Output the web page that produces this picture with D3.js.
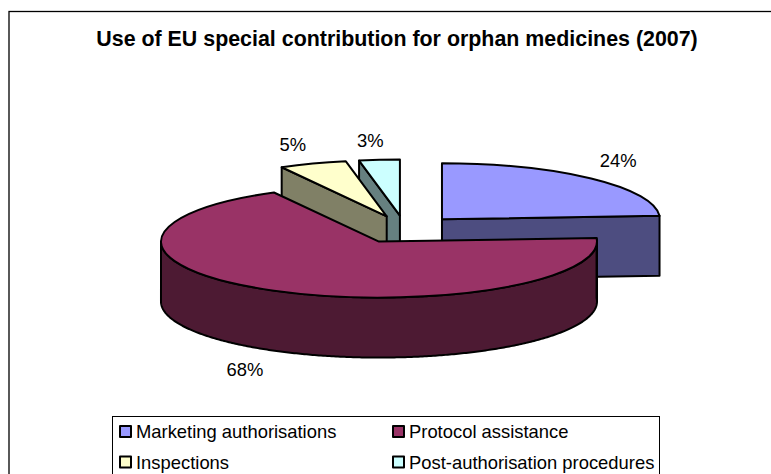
<!DOCTYPE html>
<html>
<head>
<meta charset="utf-8">
<script src="https://cdn.jsdelivr.net/npm/d3@7"></script>
<style>
  html, body { margin: 0; padding: 0; background: #fff; overflow: hidden; }
  text { font-family: "Liberation Sans", Arial, sans-serif; fill: #000; }
</style>
</head>
<body>
<svg id="chart" width="771" height="474"></svg>
<script>
// chart data
const chartTitle = "Use of EU special contribution for orphan medicines (2007)"
const categories = ["Marketing authorisations", "Protocol assistance", "Inspections", "Post-authorisation procedures"]
const shares = [24, 68, 5, 3]
const topColors = ["#9999ff", "#993366", "#ffffcc", "#ccffff"]
const sideColors = ["#4d4d80", "#4d1a33", "#808066", "#668080"]

// pie geometry
const centerX = 405
const centerY = 229.4
const radius = 218
const squash = 56 / 218
const depth = 60
const explode = 54

// label nudges from the middle of each slice rim
const labelNudge = [[27, -16], [-29, 81], [-20, -18], [-9, -18]]

const svg = d3.select("#chart")

// outer frame runs off the right and bottom of the picture
svg.append("rect")
  .attr("x", 9).attr("y", 11.5)
  .attr("width", 900).attr("height", 600)
  .attr("fill", "#fff").attr("stroke", "#000").attr("stroke-width", 1.3)

svg.append("text")
  .attr("x", 397).attr("y", 46)
  .attr("text-anchor", "middle")
  .style("font-size", "21.4px").style("font-weight", "bold")
  .text(chartTitle)

// angles come from d3.pie, starting at 12 o'clock and going clockwise
const slices = d3.pie().sort(null).startAngle(0).endAngle(2 * Math.PI)(shares)

slices.forEach(function(s) {
  const mid = (s.startAngle + s.endAngle) / 2
  s.cx = centerX + explode * Math.sin(mid)
  s.cy = centerY - explode * squash * Math.cos(mid)
})

function rim(s, angle, drop) {
  return [s.cx + radius * Math.sin(angle), s.cy - radius * squash * Math.cos(angle) + drop]
}

const line = d3.line()

// flat cut from the apex to the rim, pushed down by the depth
function cutFace(s, angle) {
  return line([[s.cx, s.cy], rim(s, angle, 0), rim(s, angle, depth), [s.cx, s.cy + depth]]) + "Z"
}

// the curved wall between two angles
function wall(s, a0, a1) {
  const angles = d3.range(a0, a1, 0.01).concat([a1])
  const upper = angles.map(a => rim(s, a, 0))
  const lower = angles.slice().reverse().map(a => rim(s, a, depth))
  return line(upper.concat(lower)) + "Z"
}

const topArc = d3.arc().innerRadius(0).outerRadius(radius)

function drawTop(s, i) {
  svg.append("path")
    .attr("transform", `translate(${s.cx},${s.cy}) scale(1,${squash})`)
    .attr("d", topArc(s))
    .attr("fill", topColors[i])
    .attr("stroke", "#000").attr("stroke-width", 2)
    .attr("stroke-linejoin", "round")
    .attr("vector-effect", "non-scaling-stroke")
}

function drawFace(d, i) {
  svg.append("path")
    .attr("d", d)
    .attr("fill", sideColors[i])
    .attr("stroke", "#000").attr("stroke-width", 2)
    .attr("stroke-linejoin", "round")
}

// back to front: blue, post-authorisation, inspections, protocol
drawFace(cutFace(slices[0], slices[0].endAngle), 0)
drawTop(slices[0], 0)
drawFace(cutFace(slices[3], slices[3].startAngle), 3)
drawTop(slices[3], 3)
drawFace(cutFace(slices[2], slices[2].startAngle), 2)
drawTop(slices[2], 2)
drawFace(wall(slices[1], Math.PI / 2, Math.PI * 3 / 2), 1)
drawFace(wall(slices[1], slices[1].startAngle, Math.PI / 2), 1)
drawTop(slices[1], 1)

// percent labels
slices.forEach(function(s, i) {
  const p = rim(s, (s.startAngle + s.endAngle) / 2, 0)
  svg.append("text")
    .attr("x", p[0] + labelNudge[i][0])
    .attr("y", p[1] + labelNudge[i][1])
    .attr("text-anchor", "middle")
    .attr("dominant-baseline", "middle")
    .style("font-size", "18.4px")
    .text(shares[i] + "%")
})

// legend box, two columns and two rows
svg.append("rect")
  .attr("x", 112.5).attr("y", 416.5)
  .attr("width", 547).attr("height", 100)
  .attr("fill", "#fff").attr("stroke", "#000").attr("stroke-width", 1)

const legendX = d3.scalePoint().domain([0, 1]).range([120, 393])
const legendY = d3.scalePoint().domain([0, 1]).range([431.5, 462])

categories.forEach(function(name, i) {
  const x = legendX(i % 2)
  const y = legendY(Math.floor(i / 2))
  svg.append("rect")
    .attr("x", x).attr("y", y - 5.5)
    .attr("width", 11).attr("height", 11)
    .attr("fill", topColors[i])
    .attr("stroke", "#000").attr("stroke-width", 2)
    .attr("stroke-linejoin", "round")
  svg.append("text")
    .attr("x", x + 16).attr("y", y + 6.5)
    .style("font-size", "18.4px")
    .text(name)
})
</script>
</body>
</html>
